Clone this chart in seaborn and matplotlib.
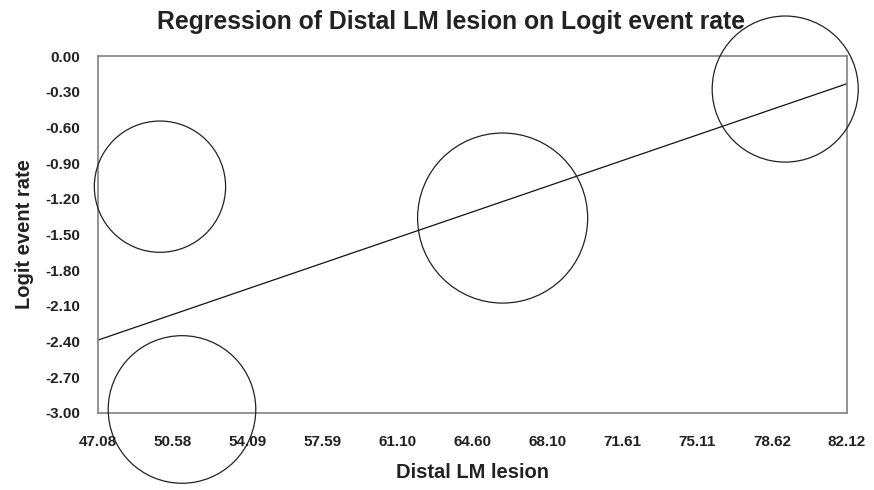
import numpy as np
import pandas as pd
import matplotlib
matplotlib.use("Agg")
import matplotlib.pyplot as plt
import seaborn as sns

# ---- data ----
distal_lm = [49.98, 51.01, 66.01, 79.23]
logit_rate = [-1.099, -2.973, -1.363, -0.278]
weights_pct = [19.3, 24.4, 32.4, 23.9]
x_ticks = [47.08, 50.58, 54.09, 57.59, 61.10, 64.60, 68.10, 71.61, 75.11, 78.62, 82.12]
x_tick_labels = ["47.08", "50.58", "54.09", "57.59", "61.10", "64.60", "68.10", "71.61", "75.11", "78.62", "82.12"]
y_ticks = [0.00, -0.30, -0.60, -0.90, -1.20, -1.50, -1.80, -2.10, -2.40, -2.70, -3.00]
y_tick_labels = ["0.00", "-0.30", "-0.60", "-0.90", "-1.20", "-1.50", "-1.80", "-2.10", "-2.40", "-2.70", "-3.00"]

df = pd.DataFrame({"x": distal_lm, "y": logit_rate, "w": weights_pct})

sns.set_style("white")
plt.rcParams["font.family"] = ["Liberation Sans", "DejaVu Sans"]

fig = plt.figure(figsize=(8.74, 4.90), dpi=100)
ax = fig.add_axes([0.1121, 0.1578, 0.9691 - 0.1121, 0.8857 - 0.1578])

sns.scatterplot(data=df, x="x", y="y", size="w", sizes=(0, 46280), size_norm=(0, 100),
                facecolor="none", edgecolor="#222222", linewidth=0.9, legend=False,
                clip_on=False, ax=ax, zorder=3)

# weighted regression line
coef = np.polyfit(df["x"], df["y"], 1, w=np.sqrt(df["w"]))
xl = np.array([x_ticks[0], x_ticks[-1]])
sns.lineplot(x=xl, y=np.polyval(coef, xl), color="#111111", linewidth=0.9, ax=ax)

ax.set_xlim(x_ticks[0], x_ticks[-1])
ax.set_ylim(-3.0, 0.0)
ax.set_xticks(x_ticks)
ax.set_xticklabels(x_tick_labels)
ax.set_yticks(y_ticks)
ax.set_yticklabels(y_tick_labels)

for s in ax.spines.values():
    s.set_visible(True)
    s.set_color("#808080")
    s.set_linewidth(1.2)

ax.tick_params(axis="x", direction="out", length=3, width=1, color="#808080",
               pad=13, labelsize=11, labelcolor="#222222")
ax.tick_params(axis="y", direction="out", length=5, width=1, color="#808080",
               pad=8, labelsize=11, labelcolor="#222222")
for lab in ax.get_xticklabels() + ax.get_yticklabels():
    lab.set_fontweight("bold")

ax.set_xlabel("Distal LM lesion", fontsize=14.5, fontweight="bold", color="#222222", labelpad=10)
ax.set_ylabel("Logit event rate", fontsize=14.5, fontweight="bold", color="#222222", labelpad=8)

fig.text(0.5155, 1 - 28.5 / 490, "Regression of Distal LM lesion on Logit event rate",
         ha="center", va="baseline", fontsize=17.8, fontweight="bold", color="#222222")

fig.savefig("out.png", dpi=100)
